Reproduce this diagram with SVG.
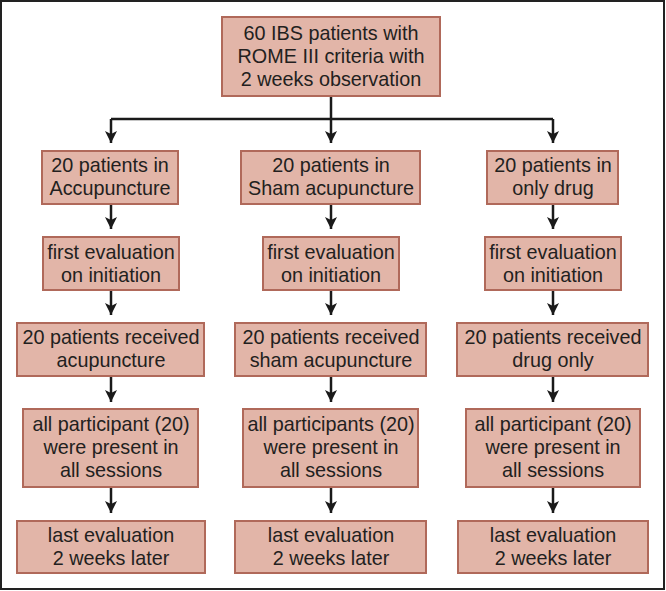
<svg xmlns="http://www.w3.org/2000/svg" width="666" height="591" viewBox="0 0 666 591">
<defs>
<style>
.box{fill:#e2b5a8;stroke:#b0695a;stroke-width:2}
.t{font-family:"Liberation Sans",Arial,sans-serif;font-size:19.8px;fill:#231f20;text-anchor:middle}
.c{fill:none;stroke:#1a1a1a;stroke-width:2.5}
</style>
<marker id="ah" markerUnits="userSpaceOnUse" markerWidth="14" markerHeight="14" refX="12" refY="6.5" orient="auto">
<path d="M0,0.5 L12,6.5 L0,12.5 L3,6.5 Z" fill="#1a1a1a"/>
</marker>
</defs>
<rect x="1" y="1" width="663" height="588" fill="#fff" stroke="#222" stroke-width="2"/>
<g id="connectors">
<path class="c" d="M331,96 V119"/>
<path class="c" d="M111,119 H553"/>
<path class="c" d="M111,119 V143" marker-end="url(#ah)"/>
<path class="c" d="M331,119 V143" marker-end="url(#ah)"/>
<path class="c" d="M553,119 V143" marker-end="url(#ah)"/>
<path class="c" d="M111,204 V229" marker-end="url(#ah)"/>
<path class="c" d="M331,204 V229" marker-end="url(#ah)"/>
<path class="c" d="M553,204 V229" marker-end="url(#ah)"/>
<path class="c" d="M111,290 V315" marker-end="url(#ah)"/>
<path class="c" d="M331,290 V315" marker-end="url(#ah)"/>
<path class="c" d="M553,290 V315" marker-end="url(#ah)"/>
<path class="c" d="M111,376 V402" marker-end="url(#ah)"/>
<path class="c" d="M331,376 V402" marker-end="url(#ah)"/>
<path class="c" d="M553,376 V402" marker-end="url(#ah)"/>
<path class="c" d="M111,487 V513" marker-end="url(#ah)"/>
<path class="c" d="M331,487 V513" marker-end="url(#ah)"/>
<path class="c" d="M553,487 V513" marker-end="url(#ah)"/>
</g>
<g id="top"><rect class="box" x="222" y="17" width="218" height="79"/>
<text class="t" x="331" y="40">60 IBS patients with</text>
<text class="t" x="331" y="63">ROME III criteria with</text>
<text class="t" x="331" y="86">2 weeks observation</text></g>

<g id="g1"><rect class="box" x="42" y="151" width="136" height="53"/>
<text class="t" x="110" y="172">20 patients in</text>
<text class="t" x="110" y="195">Accupuncture</text></g>
<g id="g2"><rect class="box" x="241" y="151" width="179" height="53"/>
<text class="t" x="331" y="172">20 patients in</text>
<text class="t" x="331" y="195">Sham acupuncture</text></g>
<g id="g3"><rect class="box" x="487" y="151" width="131" height="53"/>
<text class="t" x="553" y="172">20 patients in</text>
<text class="t" x="553" y="195">only drug</text></g>

<g id="e1"><rect class="box" x="43" y="237" width="136" height="53"/>
<text class="t" x="111" y="259">first evaluation</text>
<text class="t" x="111" y="282">on initiation</text></g>
<g id="e2"><rect class="box" x="263" y="237" width="136" height="53"/>
<text class="t" x="331" y="259">first evaluation</text>
<text class="t" x="331" y="282">on initiation</text></g>
<g id="e3"><rect class="box" x="485" y="237" width="136" height="53"/>
<text class="t" x="553" y="259">first evaluation</text>
<text class="t" x="553" y="282">on initiation</text></g>

<g id="r1"><rect class="box" x="17" y="323" width="187" height="53"/>
<text class="t" x="111" y="344">20 patients received</text>
<text class="t" x="111" y="367">acupuncture</text></g>
<g id="r2"><rect class="box" x="235" y="323" width="191" height="53"/>
<text class="t" x="331" y="344">20 patients received</text>
<text class="t" x="331" y="367">sham acupuncture</text></g>
<g id="r3"><rect class="box" x="457" y="323" width="191" height="53"/>
<text class="t" x="553" y="344">20 patients received</text>
<text class="t" x="553" y="367">drug only</text></g>

<g id="p1"><rect class="box" x="23" y="409" width="175" height="78"/>
<text class="t" x="111" y="431">all participant (20)</text>
<text class="t" x="111" y="454">were present in</text>
<text class="t" x="111" y="477">all sessions</text></g>
<g id="p2"><rect class="box" x="243" y="409" width="175" height="78"/>
<text class="t" x="331" y="431">all participants (20)</text>
<text class="t" x="331" y="454">were present in</text>
<text class="t" x="331" y="477">all sessions</text></g>
<g id="p3"><rect class="box" x="466" y="409" width="174" height="78"/>
<text class="t" x="553" y="431">all participant (20)</text>
<text class="t" x="553" y="454">were present in</text>
<text class="t" x="553" y="477">all sessions</text></g>

<g id="l1"><rect class="box" x="17" y="521" width="188" height="52"/>
<text class="t" x="111" y="542">last evaluation</text>
<text class="t" x="111" y="565">2 weeks later</text></g>
<g id="l2"><rect class="box" x="235" y="521" width="191" height="52"/>
<text class="t" x="331" y="542">last evaluation</text>
<text class="t" x="331" y="565">2 weeks later</text></g>
<g id="l3"><rect class="box" x="458" y="521" width="190" height="52"/>
<text class="t" x="553" y="542">last evaluation</text>
<text class="t" x="553" y="565">2 weeks later</text></g>
</svg>
